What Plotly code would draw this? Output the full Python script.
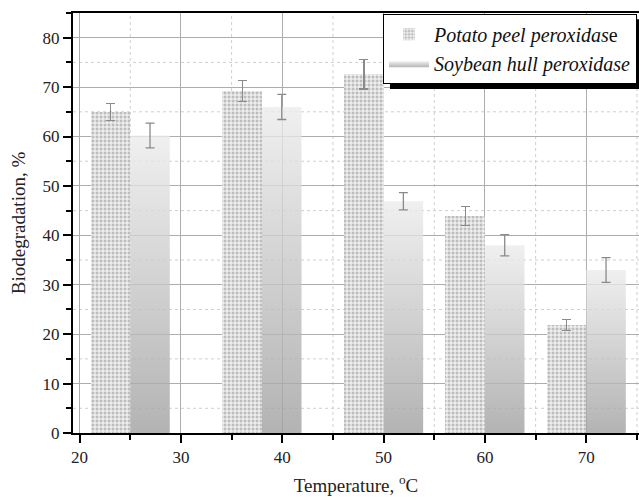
import plotly.graph_objects as go

temps = [25, 38, 50, 60, 70]
potato = [65.0, 69.2, 72.6, 43.9, 21.9]
potato_err = [1.7, 2.1, 3.0, 1.9, 1.1]
soy = [60.2, 66.0, 46.9, 38.0, 33.0]
soy_err = [2.5, 2.55, 1.75, 2.15, 2.5]
series_names = ["<i>Potato peel peroxidas</i>e", "<i>Soybean hull peroxidase</i>"]

bar_w = 3.9
serif = "Liberation Serif, DejaVu Serif, serif"
err_color = "#8a8a8a"
x_range = [19.35, 75.2]
y_range = [0, 85]

fig = go.Figure()

fig.add_trace(go.Bar(
    x=[t - bar_w / 2 for t in temps], y=potato, width=bar_w,
    name=series_names[0],
    marker=dict(color="#bdbdbd", line=dict(width=0),
                pattern=dict(shape="+", fillmode="replace", bgcolor="#bdbdbd",
                             fgcolor="white", size=4, solidity=0.42)),
    error_y=dict(type="data", array=potato_err, color=err_color, thickness=1.3, width=4.5),
))

for i, (t, v) in enumerate(zip(temps, soy)):
    x0, x1 = t, t + bar_w
    fig.add_trace(go.Scatter(
        x=[x0, x1, x1, x0, x0], y=[0, 0, v, v, 0],
        mode="lines", fill="toself",
        line=dict(width=0, color="rgba(0,0,0,0)"),
        fillgradient=dict(type="vertical",
                          colorscale=[[0, "rgba(160,160,160,0.8)"], [1, "rgba(236,236,236,0.8)"]]),
        name=series_names[1], legendgroup="soy", showlegend=(i == 0), hoverinfo="skip",
    ))

fig.add_trace(go.Scatter(
    x=[t + bar_w / 2 for t in temps], y=soy, mode="markers",
    marker=dict(opacity=0, size=1), showlegend=False, hoverinfo="skip",
    error_y=dict(type="data", array=soy_err, color=err_color, thickness=1.3, width=4.5),
))

# dotted minor grid (every 5 units, between the solid major lines)
minor_x = [v for v in range(20, 80, 5) if v % 10 == 5 and x_range[0] < v < x_range[1]]
minor_y = [v for v in range(5, 90, 10) if y_range[0] < v < y_range[1]]
for v in minor_x:
    fig.add_shape(type="line", xref="x", yref="paper", x0=v, x1=v, y0=0, y1=1,
                  line=dict(color="#cfcfcf", width=1, dash="dot"), layer="below")
for v in minor_y:
    fig.add_shape(type="line", xref="paper", yref="y", x0=0, x1=1, y0=v, y1=v,
                  line=dict(color="#cfcfcf", width=1, dash="dot"), layer="below")

axis_common = dict(
    showline=True, linecolor="black", linewidth=2,
    ticks="outside", ticklen=8, tickwidth=1.5, tickcolor="black",
    tickfont=dict(family=serif, size=17, color="#222"),
    showgrid=True, gridcolor="#adadad", gridwidth=1.2, griddash="solid",
    zeroline=False,
)
minor_common = dict(dtick=5, tick0=0, ticks="outside", ticklen=5, tickwidth=1.5, tickcolor="black",
                    showgrid=False)

fig.update_xaxes(
    **axis_common, range=x_range, dtick=10, tick0=0, mirror=True,
    minor=minor_common,
    title=dict(text="Temperature, <sup>o</sup>C", font=dict(family=serif, size=19, color="#222"), standoff=12),
)
fig.update_yaxes(
    **axis_common, range=y_range, dtick=10, tick0=0,
    minor=minor_common,
    title=dict(text="Biodegradation, %", font=dict(family=serif, size=19, color="#222"), standoff=12),
)

# legend drop shadow
fig.add_shape(type="rect", xref="paper", yref="paper",
              x0=0.56, x1=1.01, y0=0.819, y1=0.985,
              fillcolor="black", line=dict(width=0), layer="above")

fig.update_layout(
    width=639, height=502,
    margin=dict(l=73, r=0, t=13, b=69),
    paper_bgcolor="white", plot_bgcolor="white",
    font=dict(family=serif),
    barmode="overlay", bargap=0,
    showlegend=True,
    legend=dict(x=0.9965, y=0.998, xanchor="right", yanchor="top",
                bgcolor="white", bordercolor="black", borderwidth=1,
                font=dict(family=serif, size=20, color="#111"),
                itemwidth=40, tracegroupgap=0),
)

fig.write_html("out.html")
